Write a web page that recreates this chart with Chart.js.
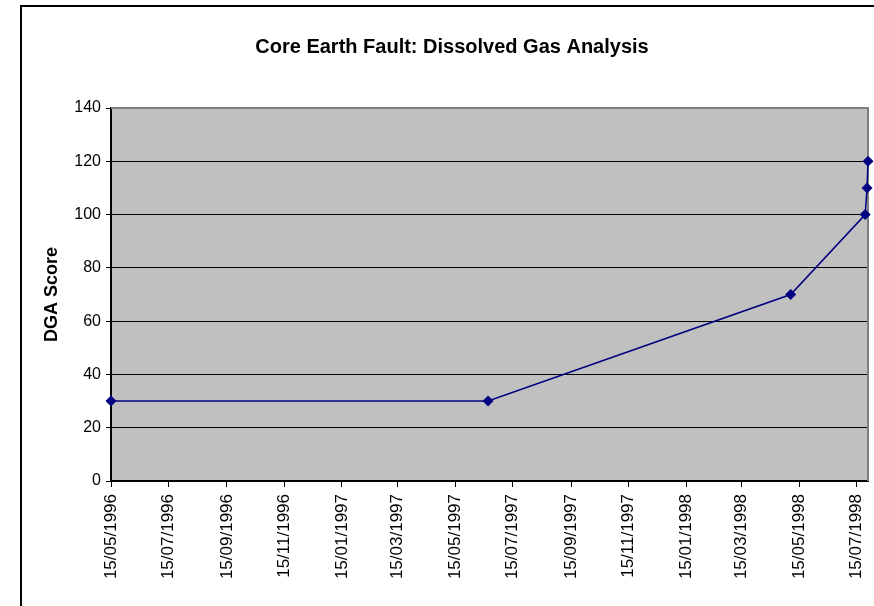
<!DOCTYPE html>
<html>
<head>
<meta charset="utf-8">
<script src="https://cdn.jsdelivr.net/npm/chart.js@4/dist/chart.umd.min.js"></script>
<style>
  html, body { margin: 0; padding: 0; background: #fff; }
  canvas { display: block; }
</style>
</head>
<body>
<canvas id="dgaChart" width="874" height="606"></canvas>
<script>
// Sample dates (dd/mm/yyyy) and DGA scores
const sampleDates = ['15/05/1996', '19/06/1997', '06/05/1998', '24/07/1998', '26/07/1998', '27/07/1998'];
const dgaScores = [30, 30, 70, 100, 110, 120];

// Category axis ticks, every two months
const tickLabels = [
    '15/05/1996', '15/07/1996', '15/09/1996', '15/11/1996',
    '15/01/1997', '15/03/1997', '15/05/1997', '15/07/1997',
    '15/09/1997', '15/11/1997', '15/01/1998', '15/03/1998',
    '15/05/1998', '15/07/1998'
];

const FONT = '"Liberation Sans", Arial, sans-serif';

function dayNumber(str) {
    const [d, m, y] = str.split('/').map(Number);
    return Date.UTC(y, m - 1, d) / 86400000;
}

const tickDays = tickLabels.map(dayNumber);
const points = sampleDates.map((d, i) => ({ x: dayNumber(d), y: dgaScores[i] }));

// Grey plot area, grey top/right border, outer frame
const excelLook = {
    id: 'excelLook',
    beforeDraw(chart) {
        const { ctx, chartArea: a } = chart;
        ctx.save();
        ctx.fillStyle = '#C0C0C0';
        ctx.fillRect(a.left, a.top, a.right - a.left, a.bottom - a.top);
        ctx.restore();
    },
    beforeDatasetsDraw(chart) {
        const { ctx, chartArea: a } = chart;
        ctx.save();
        ctx.strokeStyle = '#808080';
        ctx.lineWidth = 2;
        ctx.beginPath();
        ctx.moveTo(a.left, a.top);
        ctx.lineTo(a.right, a.top);
        ctx.lineTo(a.right, a.bottom);
        ctx.stroke();
        ctx.restore();
    },
    afterDraw(chart) {
        const { ctx, width, height } = chart;
        ctx.save();
        ctx.fillStyle = '#000';
        ctx.fillRect(20, 5, 2, height - 5);
        ctx.fillRect(20, 5, width - 20, 2);
        ctx.restore();
    }
};

const ctx = document.getElementById('dgaChart').getContext('2d');
new Chart(ctx, {
    type: 'line',
    data: {
        datasets: [{
            label: 'DGA Score',
            data: points,
            borderColor: '#000080',
            backgroundColor: '#000080',
            borderWidth: 1.5,
            pointStyle: 'rectRot',
            pointRadius: 5.5,
            pointHoverRadius: 5.5,
            pointBorderWidth: 0,
            tension: 0,
            clip: false
        }]
    },
    options: {
        responsive: false,
        animation: false,
        layout: { padding: { left: 36, right: 6, top: 0, bottom: 0 } },
        plugins: {
            legend: { display: false },
            tooltip: { enabled: false },
            title: {
                display: true,
                text: 'Core Earth Fault: Dissolved Gas Analysis',
                color: '#000',
                font: { family: FONT, size: 20, weight: 'bold' },
                padding: { top: 35, bottom: 49 }
            }
        },
        scales: {
            x: {
                type: 'linear',
                min: dayNumber(tickLabels[0]),
                max: dayNumber(sampleDates[sampleDates.length - 1]),
                afterBuildTicks: (scale) => {
                    scale.ticks = tickDays.map(v => ({ value: v }));
                },
                afterFit: (scale) => {
                    scale.height = 125;
                    scale.paddingLeft = 0;
                    scale.paddingRight = 0;
                },
                grid: {
                    drawOnChartArea: false,
                    color: '#000',
                    tickLength: 6
                },
                border: { color: '#000', width: 2 },
                ticks: {
                    autoSkip: false,
                    minRotation: 90,
                    maxRotation: 90,
                    padding: 7,
                    color: '#000',
                    font: { family: FONT, size: 17 },
                    callback: (value, index) => tickLabels[index]
                }
            },
            y: {
                min: 0,
                max: 140,
                afterFit: (scale) => { scale.width = 75; },
                grid: {
                    color: '#000',
                    tickLength: 5
                },
                border: { color: '#000', width: 2 },
                ticks: {
                    stepSize: 20,
                    padding: 5,
                    color: '#000',
                    font: { family: FONT, size: 16 }
                },
                title: {
                    display: true,
                    text: 'DGA Score',
                    color: '#000',
                    font: { family: FONT, size: 18, weight: 'bold' },
                    padding: { top: 5, bottom: 0 }
                }
            }
        }
    },
    plugins: [excelLook]
});
</script>
</body>
</html>
